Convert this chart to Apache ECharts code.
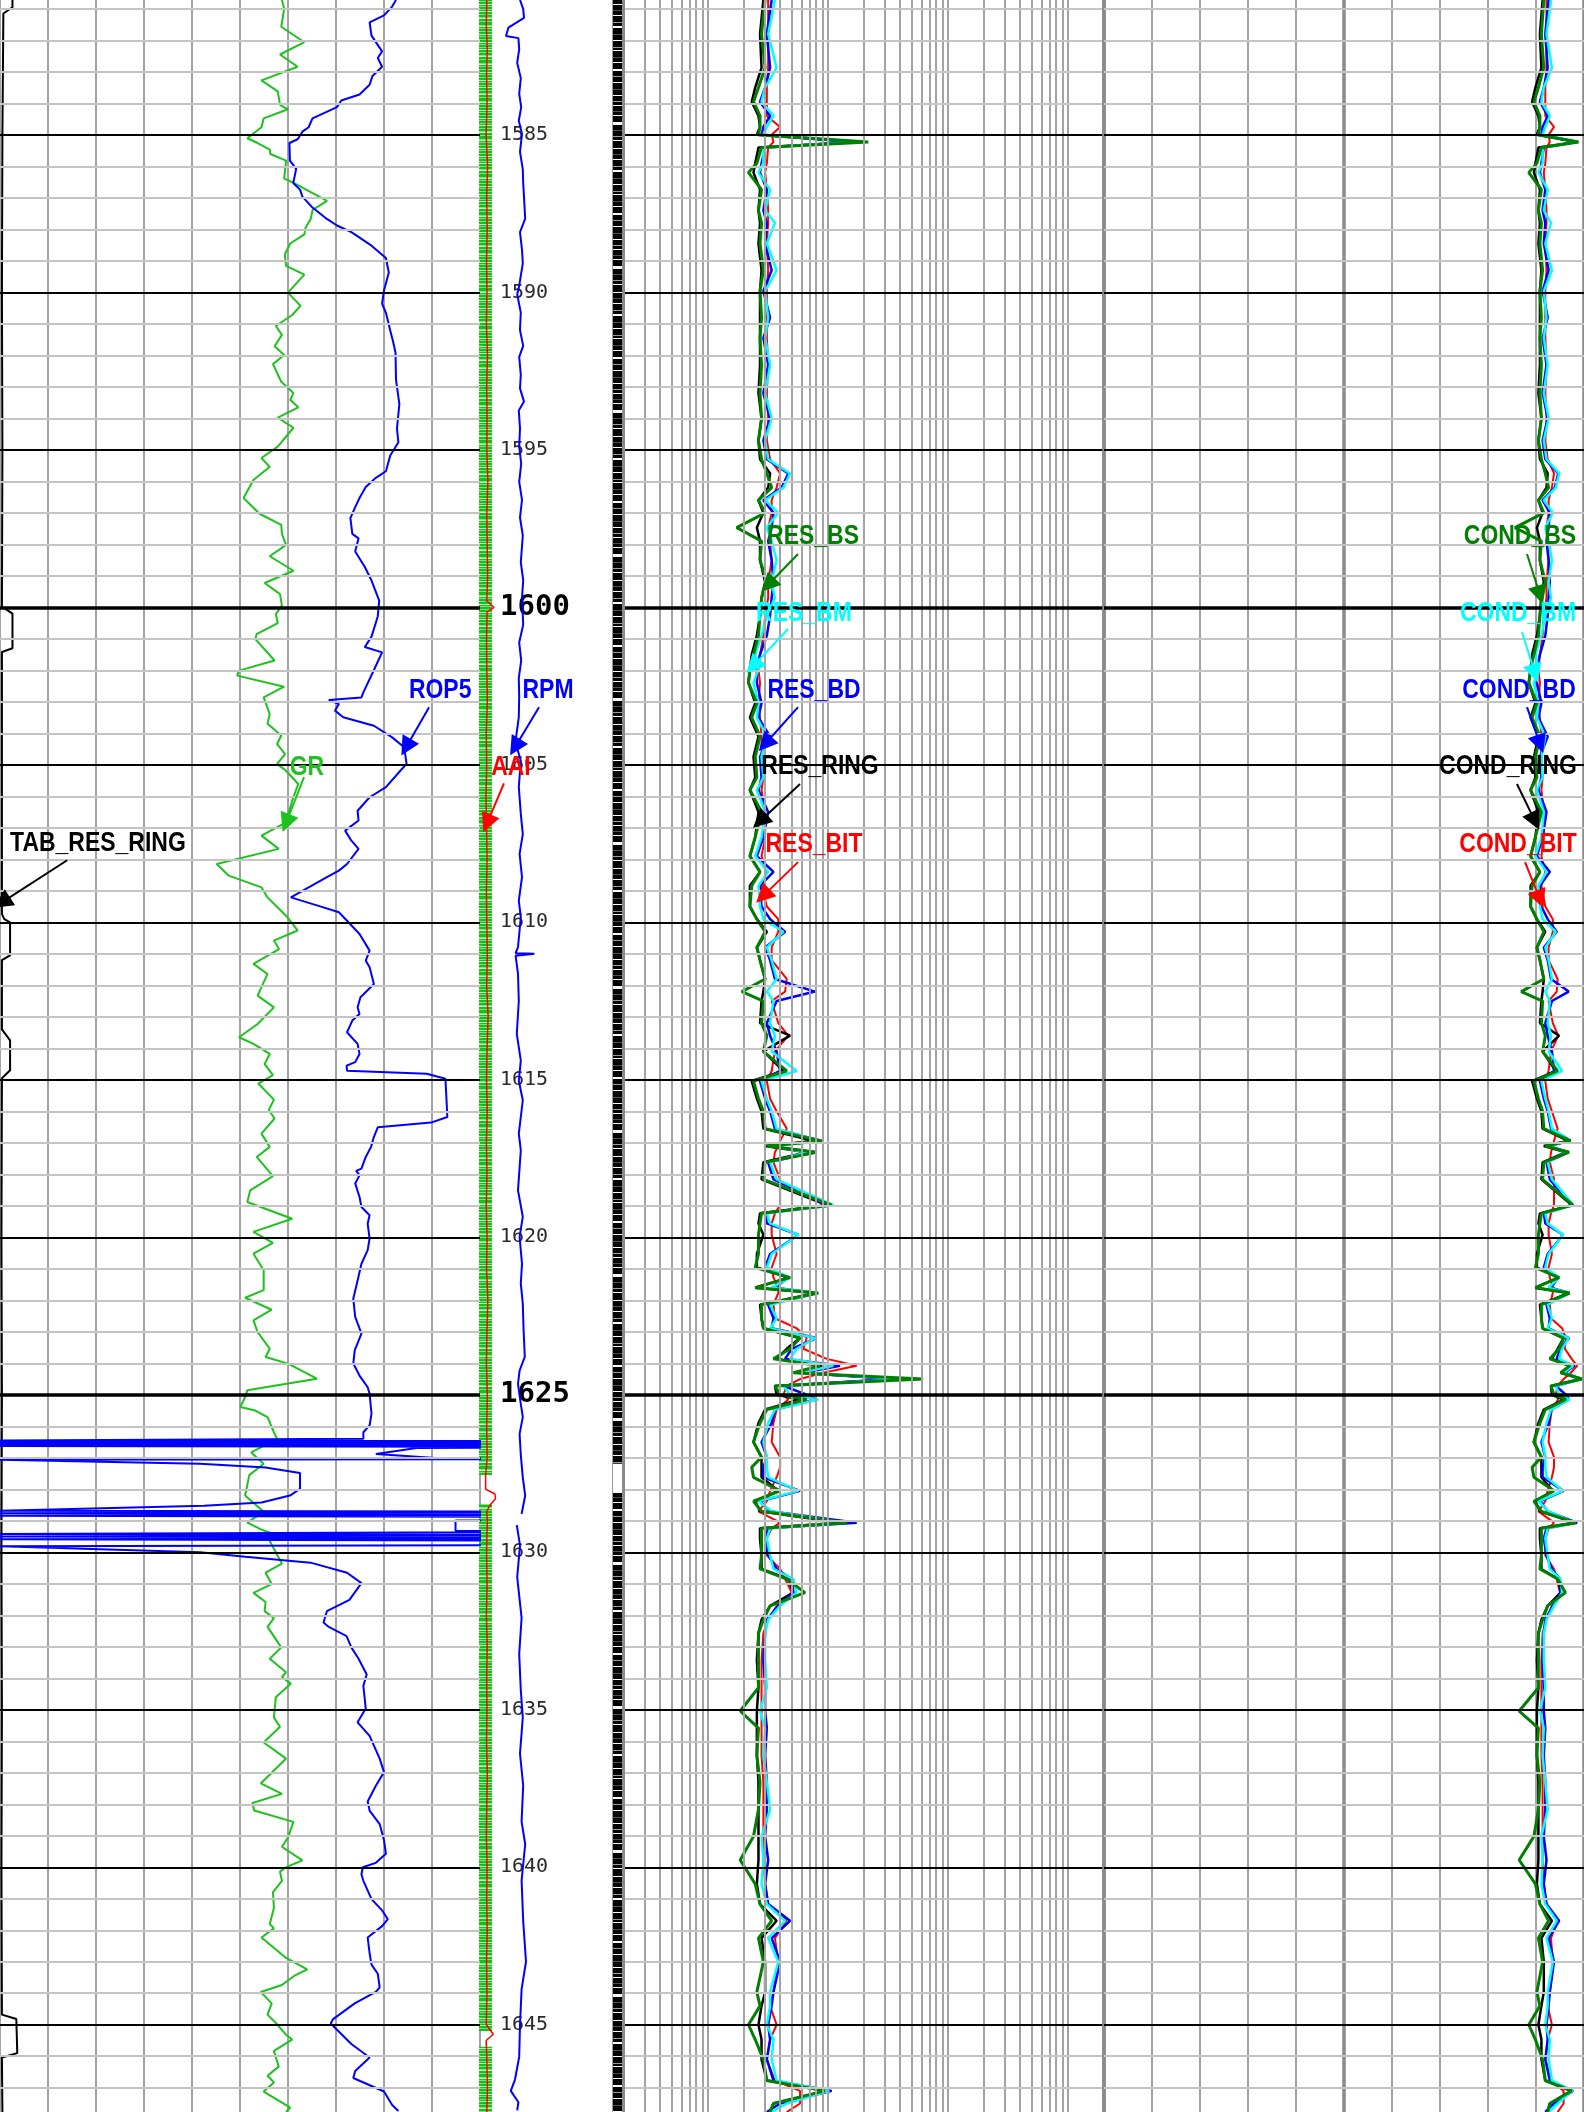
<!DOCTYPE html>
<html><head><meta charset="utf-8">
<script src="https://cdn.jsdelivr.net/npm/echarts@6/dist/echarts.min.js"></script>
<style>html,body{margin:0;padding:0;background:#fff}#c{width:1584px;height:2112px}</style>
</head><body><div id="c"></div>
<script>
// ---------------- DATA ----------------
const DMIN = 1580.72, DMAX = 1647.77;
const depthLabels = [1585,1590,1595,1600,1605,1610,1615,1620,1625,1630,1635,1640,1645];
const logGridValues = [0.15,0.2,0.25,0.3,0.35,0.4,0.45,0.5,1,1.5,2,2.5,3,3.5,4,4.5,5,10,15,20,25,30,35,40,45,50,100,150,200,250,300,350,400,450,500];

// [depth, GR gAPI]
const grPts = [[1580.72,88.1],[1581.0,88.8],[1581.57,87.9],[1582.06,95.1],[1582.45,87.5],[1582.84,93.0],[1583.27,81.7],[1583.62,86.8],[1584.05,87.5],[1584.19,90.0],[1584.48,82.4],[1584.76,81.7],[1585.11,77.3],[1585.26,80.5],[1585.47,84.3],[1585.61,84.5],[1585.82,89.4],[1586.39,88.8],[1586.53,91.9],[1586.82,97.1],[1587.10,102.2],[1587.38,97.7],[1587.67,97.1],[1587.95,95.5],[1588.16,95.1],[1588.45,90.7],[1588.80,89.0],[1589.16,89.4],[1589.44,95.1],[1590.01,90.0],[1590.43,93.9],[1590.72,91.3],[1591.07,86.2],[1591.35,88.1],[1591.71,85.8],[1591.99,88.8],[1592.28,85.3],[1592.84,87.9],[1593.20,91.7],[1593.41,90.7],[1593.65,93.2],[1593.98,86.8],[1594.30,91.7],[1594.90,86.8],[1595.26,81.7],[1595.54,84.3],[1595.96,79.2],[1596.53,76.1],[1597.03,81.1],[1597.38,87.9],[1597.67,88.1],[1598.02,89.4],[1598.38,84.3],[1598.84,91.7],[1599.23,82.7],[1599.58,87.5],[1599.94,88.1],[1600.22,86.2],[1600.50,86.8],[1600.85,80.2],[1601.01,79.8],[1601.69,85.8],[1602.01,74.7],[1602.17,74.1],[1602.52,88.8],[1602.86,82.4],[1603.39,84.3],[1603.70,83.6],[1604.07,87.9],[1604.34,86.6],[1604.66,89.1],[1604.97,86.6],[1605.19,89.4],[1605.61,93.2],[1606.14,91.3],[1606.83,89.4],[1607.25,81.7],[1607.67,87.1],[1608.15,67.7],[1608.52,71.5],[1608.89,81.7],[1609.21,83.6],[1609.79,89.4],[1610.26,93.0],[1610.58,85.6],[1610.85,87.2],[1611.32,79.2],[1611.64,83.6],[1612.33,80.5],[1612.70,85.6],[1613.23,80.5],[1613.65,74.7],[1613.86,79.2],[1614.18,84.3],[1614.50,82.7],[1614.85,85.3],[1615.12,80.7],[1615.63,85.6],[1615.96,84.0],[1616.23,85.8],[1616.71,81.7],[1617.13,84.3],[1617.45,80.2],[1618.06,85.3],[1618.51,78.2],[1618.88,77.3],[1619.41,91.3],[1619.83,79.2],[1620.18,85.3],[1620.52,79.2],[1621.05,82.4],[1621.68,82.4],[1621.92,76.6],[1622.30,84.9],[1622.64,79.2],[1623.01,80.5],[1623.54,84.3],[1623.80,83.0],[1624.01,90.0],[1624.49,99.0],[1624.86,77.3],[1625.07,76.6],[1625.39,75.1],[1625.50,79.8],[1625.71,83.6],[1626.19,85.6],[1626.40,86.6],[1626.83,78.5],[1627.19,82.4],[1627.55,77.9],[1628.20,76.6],[1628.71,82.4],[1629.06,77.3],[1629.28,81.7],[1629.42,85.6],[1629.64,84.3],[1630.36,88.1],[1630.65,83.0],[1631.01,84.9],[1631.29,79.2],[1631.58,83.0],[1631.87,82.7],[1632.09,85.6],[1632.37,83.6],[1633.02,87.9],[1633.38,84.3],[1633.81,89.4],[1633.96,88.1],[1634.17,90.9],[1634.60,86.2],[1635.25,85.6],[1635.54,87.5],[1636.04,82.4],[1636.55,89.4],[1637.34,81.5],[1637.67,88.1],[1637.96,78.9],[1638.20,79.4],[1638.56,91.7],[1639.06,90.0],[1639.35,88.1],[1639.78,94.5],[1640.00,89.4],[1640.14,87.5],[1640.43,88.1],[1640.79,85.3],[1641.29,85.6],[1641.80,84.3],[1641.94,85.6],[1642.23,81.7],[1642.88,89.4],[1643.24,96.0],[1643.45,91.9],[1643.74,88.1],[1643.96,81.5],[1644.32,84.9],[1644.68,83.6],[1645.01,86.8],[1645.32,89.4],[1645.47,91.3],[1645.83,85.6],[1646.33,87.1],[1646.62,83.6],[1646.83,85.6],[1647.12,82.4],[1647.63,90.7],[1647.77,89.4]];

// [depth, ROP5 m/h]
const ropPts = [[1580.72,82.5],[1580.93,81.7],[1581.21,80.0],[1581.43,77.0],[1581.85,77.4],[1582.35,79.6],[1582.56,78.7],[1582.84,79.6],[1583.13,77.6],[1583.41,77.0],[1583.72,74.9],[1583.91,71.1],[1584.12,70.2],[1584.48,65.1],[1584.76,64.3],[1584.90,63.0],[1585.14,62.0],[1585.26,60.3],[1585.82,60.4],[1586.08,61.7],[1586.53,61.1],[1586.74,62.5],[1586.96,63.0],[1587.31,65.1],[1587.67,68.1],[1587.88,70.2],[1588.09,73.2],[1588.52,77.4],[1588.91,80.4],[1589.37,81.0],[1589.94,80.0],[1590.36,79.6],[1590.65,80.4],[1591.21,81.3],[1591.57,81.9],[1591.92,82.4],[1592.77,82.5],[1593.55,83.2],[1594.33,82.7],[1594.76,83.0],[1595.18,81.3],[1595.68,80.4],[1595.89,78.3],[1596.18,76.2],[1596.53,74.9],[1596.82,74.0],[1597.17,73.0],[1597.67,73.4],[1597.81,74.7],[1598.23,74.0],[1598.72,76.0],[1599.15,77.4],[1599.79,79.0],[1600.29,78.7],[1600.93,77.4],[1601.26,76.0],[1601.43,79.6],[1601.99,77.9],[1602.70,75.7],[1602.86,75.3],[1602.94,68.5],[1603.07,70.6],[1603.28,69.8],[1603.49,71.5],[1603.76,77.9],[1604.13,81.7],[1604.44,84.2],[1604.97,84.7],[1605.19,83.4],[1605.71,80.4],[1606.03,77.0],[1606.46,74.5],[1606.77,74.7],[1607.09,71.9],[1607.41,73.2],[1607.67,74.7],[1608.15,72.3],[1608.36,70.6],[1608.57,68.1],[1609.21,60.6],[1609.52,67.2],[1609.68,70.6],[1609.95,72.3],[1610.37,74.9],[1610.90,77.0],[1611.22,76.2],[1611.43,77.0],[1611.96,77.9],[1612.38,75.1],[1612.70,74.5],[1612.91,74.9],[1613.12,73.4],[1613.49,72.3],[1613.86,74.5],[1614.18,74.9],[1614.44,74.0],[1614.55,72.2],[1614.71,72.3],[1614.81,88.9],[1614.97,92.8],[1616.18,93.2],[1616.36,89.8],[1616.51,78.7],[1616.81,77.9],[1617.13,77.3],[1617.45,76.2],[1617.82,75.3],[1617.89,74.2],[1618.03,74.9],[1618.29,74.0],[1618.72,74.9],[1619.04,75.3],[1619.30,77.0],[1619.57,76.6],[1620.04,77.0],[1620.41,76.6],[1620.84,75.3],[1621.37,74.5],[1621.95,73.6],[1622.53,74.0],[1623.06,75.3],[1623.59,73.9],[1624.01,73.6],[1624.39,74.9],[1624.76,76.6],[1624.97,77.0],[1625.60,77.4],[1625.97,77.0],[1626.19,75.7],[1626.40,75.7],[1626.45,0],[1626.48,150],[1626.51,0],[1626.54,150],[1626.57,0],[1626.60,150],[1626.63,0],[1626.66,150],[1626.69,86.8],[1626.88,78.3],[1627.02,92.3],[1627.04,150],[1627.06,0],[1627.19,41.7],[1627.31,55.3],[1627.48,62.5],[1627.99,62.5],[1628.20,60.4],[1628.42,54.5],[1628.52,42.5],[1628.68,0],[1628.72,150],[1628.76,0],[1628.80,150],[1628.84,0],[1628.89,150],[1628.97,150],[1628.99,94.9],[1629.32,94.9],[1629.34,150],[1629.42,0],[1629.46,150],[1629.50,0],[1629.55,150],[1629.59,0],[1629.64,150],[1629.76,150],[1629.81,0],[1630.00,41.7],[1630.14,51.1],[1630.33,64.7],[1630.65,72.3],[1630.98,75.3],[1631.51,72.8],[1631.87,68.1],[1632.23,67.4],[1632.37,68.5],[1632.66,72.2],[1633.02,73.2],[1633.38,74.7],[1633.88,76.4],[1634.24,75.7],[1634.96,76.2],[1635.40,74.5],[1635.83,77.0],[1636.55,79.1],[1636.98,80.0],[1637.41,78.3],[1637.91,76.6],[1638.20,77.0],[1638.63,79.1],[1639.14,80.0],[1639.57,80.4],[1639.86,78.3],[1640.00,75.6],[1640.22,75.3],[1640.43,75.7],[1641.01,77.4],[1641.37,79.6],[1641.65,80.8],[1641.87,79.6],[1642.23,76.6],[1642.73,77.0],[1643.09,77.4],[1643.38,78.7],[1643.81,79.1],[1643.96,78.3],[1644.32,73.9],[1644.82,69.4],[1644.96,68.9],[1645.61,73.2],[1646.04,77.0],[1646.47,74.0],[1646.69,73.6],[1647.12,80.0],[1647.55,81.7],[1647.74,83.0]];

// [depth, TAB_RES_RING h]
const tabPts = [[1580.72,0.26],[1580.95,0.26],[1581.15,0.07],[1585,0.05],[1590,0.04],[1595,0.05],[1599.98,0.04],[1600.2,0.26],[1601.3,0.26],[1601.42,0.04],[1605,0.04],[1609.74,0.04],[1609.9,0.09],[1610.0,0.21],[1611.05,0.21],[1611.2,0.04],[1613.4,0.04],[1613.75,0.21],[1614.7,0.21],[1614.95,0.04],[1620,0.03],[1625,0.04],[1630,0.03],[1635,0.04],[1640,0.03],[1644.68,0.04],[1644.82,0.34],[1645.9,0.36],[1646.04,0.04],[1647.77,0.05]];

// [depth, AAI]
const aaiPts = [[1580.72,6.0],[1581.5,5.6],[1582.3,6.4],[1583.0,5.8],[1584.0,6.2],[1585.0,5.5],[1586.0,6.6],[1587.0,5.9],[1588.0,6.3],[1589.0,5.8],[1590.0,6.1],[1591.0,5.7],[1592.0,6.5],[1593.0,5.9],[1594.0,6.2],[1595.0,6.0],[1596.0,6.8],[1597.0,6.0],[1598.0,6.3],[1599.0,6.6],[1599.8,6.0],[1600.0,11.5],[1600.15,6.2],[1601.0,5.8],[1602.0,6.0],[1603.0,6.4],[1604.0,5.6],[1605.0,5.9],[1606.0,5.4],[1607.0,5.8],[1608.0,6.2],[1609.0,5.7],[1610.0,6.0],[1611.0,6.4],[1612.0,5.9],[1613.0,7.0],[1614.0,6.2],[1615.0,5.8],[1616.0,6.3],[1617.0,5.7],[1618.0,6.1],[1619.0,5.6],[1620.0,6.2],[1621.0,5.8],[1622.0,6.8],[1623.0,6.1],[1624.0,5.7],[1625.0,6.4],[1626.0,5.9],[1627.0,6.3],[1627.55,5.1],[1628.0,5.1],[1628.15,12.3],[1628.3,12.7],[1628.5,8.5],[1628.7,6.0],[1629.0,6.4],[1630.0,5.8],[1631.0,6.2],[1632.0,5.7],[1633.0,6.3],[1634.0,5.9],[1635.0,6.1],[1636.0,5.8],[1637.0,6.4],[1638.0,6.0],[1639.0,5.7],[1640.0,6.2],[1641.0,5.9],[1642.0,6.3],[1643.0,5.8],[1644.0,6.1],[1645.0,5.6],[1645.3,11.0],[1645.5,5.5],[1646.0,6.0],[1647.0,6.5],[1647.77,6.0]];
// AAI data-present intervals [top, bottom]
const aaiPresent = [[1580.72,1627.55],[1628.48,1645.2],[1645.7,1647.77]];
// image-log data-present intervals
const imagePresent = [[1580.72,1627.19],[1628.12,1647.77]];

// [depth, RPM]
const rpmPts = [[1580.72,70],[1581.0,78],[1581.29,80],[1581.6,41],[1581.86,35],[1581.93,66],[1582.28,68],[1582.71,63],[1583.2,72],[1583.7,68],[1584.12,73],[1584.55,67],[1584.97,75],[1585.54,70],[1586.1,77],[1586.53,78],[1587.66,83],[1588.09,70],[1588.65,75],[1589.08,77],[1589.79,68],[1590.07,63],[1590.64,72],[1591.2,70],[1591.7,78],[1592.05,68],[1592.62,72],[1593.05,70],[1593.47,80],[1593.75,67],[1594.32,70],[1594.89,68],[1595.45,73],[1596.02,68],[1596.59,75],[1597.15,70],[1597.72,77],[1598.57,72],[1599.14,78],[1599.7,75],[1600.55,78],[1601.12,68],[1601.69,73],[1602.25,67],[1602.82,68],[1603.49,67],[1604.23,59],[1604.44,62],[1604.87,72],[1605.71,67],[1606.56,72],[1607.2,77],[1607.83,69],[1608.57,75],[1609.31,67],[1609.84,72],[1610.79,65],[1610.98,59],[1611.0,106],[1611.06,59],[1611.64,65],[1612.49,67],[1613.54,62],[1614.39,72],[1615.03,67],[1615.65,77],[1616.71,67],[1617.24,72],[1618.51,65],[1619.35,77],[1619.99,69],[1620.84,75],[1621.47,72],[1622.11,77],[1622.96,79],[1623.8,82],[1624.23,69],[1624.65,65],[1625.29,72],[1625.71,77],[1626.24,69],[1626.91,72],[1627.63,77],[1628.2,83],[1628.78,74],[1628.9,null],[1629.14,62],[1629.78,70],[1630.79,63],[1632.08,74],[1633.23,68],[1634.38,72],[1635.24,77],[1636.39,70],[1637.4,78],[1638.55,74],[1639.27,83],[1640.42,74],[1641.71,78],[1643.0,85],[1643.87,74],[1645.01,70],[1646.02,68],[1646.74,57.5],[1647.1,47],[1647.46,66],[1647.72,63]];

// Resistivity / conductivity sample depths
const resDepth = [1580.72,1581.8,1582.87,1583.5,1583.95,1584.4,1584.75,1585.0,1585.23,1585.4,1585.9,1586.2,1586.74,1587.4,1587.8,1588.45,1589.3,1589.96,1590.8,1591.45,1592.3,1593.2,1594.0,1594.7,1595.3,1595.75,1596.2,1596.6,1597.0,1597.47,1597.9,1598.5,1599.2,1599.7,1600.26,1600.9,1601.5,1601.97,1602.4,1603.04,1603.5,1604.1,1604.75,1605.4,1605.8,1606.5,1607.3,1607.9,1608.4,1608.84,1609.5,1609.9,1610.3,1610.8,1611.2,1611.8,1612.2,1612.5,1613.2,1613.6,1614.1,1614.72,1615.04,1615.6,1616.0,1616.55,1616.94,1617.1,1617.3,1617.62,1618.16,1618.98,1619.24,1619.56,1619.92,1620.53,1620.96,1621.28,1621.6,1621.77,1622.14,1622.57,1622.89,1623.2,1623.54,1623.86,1624.08,1624.3,1624.5,1624.72,1625.0,1625.15,1625.47,1625.9,1626.5,1626.98,1627.3,1627.62,1628.05,1628.38,1628.7,1629.06,1629.24,1629.56,1630.1,1630.53,1630.85,1631.28,1631.7,1632.14,1632.57,1633.43,1634.3,1635.04,1635.58,1636.44,1637.3,1638.16,1639.02,1639.77,1640.53,1641.17,1641.7,1642.25,1643.0,1643.96,1644.4,1645.0,1645.47,1646.1,1646.77,1647.1,1647.5,1647.77];

const resBS = [1.50,1.40,1.50,1.32,1.20,1.36,1.36,1.32,10.86,1.40,1.28,1.09,1.40,1.32,1.40,1.36,1.45,1.36,1.40,1.36,1.40,1.36,1.40,1.32,1.40,1.55,1.70,1.32,1.50,0.87,1.40,1.36,1.55,1.40,1.36,1.32,1.20,1.12,1.09,1.28,1.16,1.36,1.24,1.28,1.12,1.40,1.24,1.12,1.36,1.16,1.12,1.28,1.50,1.28,1.36,1.50,0.96,1.45,1.40,1.55,1.45,2.27,1.20,1.32,1.45,1.50,4.44,1.55,4.03,1.50,1.45,5.38,1.40,1.36,1.32,1.32,1.24,2.42,1.24,4.16,1.40,1.40,1.45,2.93,2.42,1.76,4.30,2.58,31.1,1.81,2.00,3.33,1.55,1.36,1.20,1.40,1.16,1.20,2.00,1.20,1.40,7.17,1.40,1.40,1.40,1.36,2.27,3.22,1.65,1.45,1.32,1.32,1.32,0.93,1.32,1.28,1.36,1.32,1.20,0.93,1.24,1.36,1.70,1.32,1.45,1.28,1.36,1.09,1.24,1.45,1.55,4.73,1.76,1.65];
const resBM = [1.81,1.59,1.87,1.50,1.40,1.76,1.55,1.45,9.87,1.45,1.45,1.32,1.65,1.50,1.81,1.55,1.87,1.50,1.59,1.50,1.65,1.50,1.70,1.50,1.59,2.42,2.13,1.50,1.93,1.55,1.70,1.87,1.70,1.81,1.55,1.40,1.24,1.32,1.20,1.32,1.28,1.55,1.40,1.45,1.28,1.50,1.40,1.24,1.59,1.32,1.36,1.45,2.13,1.55,1.70,1.87,1.55,1.76,1.65,1.81,1.70,2.75,1.40,1.55,1.70,1.87,4.30,1.70,3.33,1.65,1.87,5.55,1.55,1.65,2.84,1.70,1.55,2.42,1.70,4.16,1.65,1.87,1.65,3.90,2.75,2.42,5.55,2.93,21.3,2.13,2.42,4.16,1.81,1.59,1.45,1.55,1.55,1.59,2.84,1.32,1.70,6.72,1.65,1.55,1.65,1.76,2.58,2.75,2.00,1.59,1.50,1.50,1.55,1.36,1.50,1.45,1.55,1.65,1.40,1.45,1.40,1.55,2.20,1.59,1.93,1.65,1.65,1.55,1.76,1.70,1.87,5.13,2.27,1.70];
const resBD = [1.70,1.55,1.65,1.50,1.36,1.65,1.45,1.40,8.14,1.50,1.40,1.36,1.55,1.45,1.55,1.50,1.70,1.45,1.65,1.45,1.59,1.45,1.65,1.45,1.55,2.34,2.06,1.45,1.76,1.70,1.59,1.70,1.76,1.70,1.65,1.55,1.36,1.28,1.28,1.40,1.32,1.65,1.36,1.40,1.32,1.59,1.45,1.28,1.76,1.36,1.40,1.65,2.20,1.50,1.65,1.81,3.90,1.87,1.55,1.65,1.87,2.00,1.36,1.50,1.65,1.81,4.44,1.65,3.90,1.59,1.76,4.89,1.50,1.55,2.84,1.65,1.50,2.34,1.81,4.03,1.59,1.76,1.70,4.03,2.50,2.20,6.31,3.12,17.6,2.13,3.33,4.03,1.81,1.70,1.40,1.55,1.45,1.45,2.93,1.36,1.65,8.69,1.59,1.50,1.59,1.87,2.50,2.58,1.93,1.55,1.50,1.45,1.50,1.50,1.55,1.50,1.55,1.55,1.50,1.59,1.50,1.59,2.42,1.70,2.00,1.76,1.70,1.59,1.65,1.55,1.76,5.38,2.00,1.55];
const resRING = [1.45,1.36,1.40,1.24,1.16,1.32,1.36,1.28,8.69,1.32,1.24,1.20,1.36,1.32,1.36,1.32,1.40,1.36,1.36,1.36,1.36,1.32,1.40,1.32,1.36,1.65,1.59,1.32,1.45,1.28,1.36,1.36,1.50,1.40,1.36,1.28,1.16,1.12,1.09,1.24,1.12,1.32,1.20,1.24,1.12,1.32,1.24,1.12,1.36,1.12,1.12,1.28,1.55,1.28,1.36,1.50,1.45,1.40,1.36,2.42,1.45,2.13,1.16,1.28,1.40,1.45,3.78,1.50,3.33,1.45,1.40,4.89,1.36,1.32,1.45,1.28,1.28,2.34,1.24,4.03,1.36,1.40,1.45,2.93,2.27,1.87,4.58,2.75,18.7,1.81,1.87,2.93,1.50,1.32,1.20,1.40,1.40,1.40,1.93,1.24,1.36,6.31,1.36,1.36,1.40,1.40,2.34,2.58,1.65,1.40,1.32,1.28,1.32,1.28,1.28,1.28,1.32,1.32,1.32,1.32,1.28,1.36,1.87,1.40,1.50,1.50,1.40,1.32,1.40,1.40,1.55,4.89,1.76,1.65];
const resBIT = [1.59,1.59,1.59,1.55,1.55,1.55,2.00,1.70,1.76,1.59,1.55,1.50,1.55,1.59,1.59,1.55,1.59,1.55,1.55,1.55,1.59,1.55,1.59,1.55,1.65,2.00,1.87,1.70,1.70,1.59,1.65,1.70,1.59,1.59,1.50,1.45,1.36,1.32,1.36,1.32,1.36,1.40,1.40,1.45,1.40,1.50,1.50,1.40,1.55,1.40,1.55,1.93,1.93,1.70,1.70,2.27,2.20,1.70,1.93,2.34,1.81,1.70,1.55,1.65,1.87,2.27,2.00,1.93,1.81,1.76,2.00,2.00,1.81,1.70,1.70,1.87,1.70,1.76,1.93,1.93,1.76,1.81,2.75,3.33,3.12,4.89,8.69,4.58,2.93,2.27,2.13,2.34,1.87,1.76,1.70,2.00,2.00,1.87,1.65,1.55,1.32,2.00,1.70,1.55,1.55,2.00,2.20,2.50,1.87,1.59,1.45,1.40,1.40,1.40,1.40,1.40,1.45,1.45,1.45,1.45,1.50,1.59,2.27,1.81,1.93,1.76,1.65,1.87,1.65,1.55,1.81,2.93,2.93,2.27];

const condBS = [670,710,670,760,835,735,735,760,92,710,785,920,710,760,710,735,690,735,710,735,710,735,710,760,710,645,590,760,670,1150,710,735,645,710,735,760,835,890,920,785,865,735,810,785,890,710,810,890,735,865,890,785,670,785,735,670,1045,690,710,645,690,440,835,760,690,670,225,645,250,670,690,185,710,735,760,760,810,415,810,240,710,710,690,340,415,570,235,390,32,550,500,300,645,735,835,710,865,835,500,835,710,140,710,710,710,735,440,310,605,690,760,760,760,1080,760,785,735,760,835,1080,810,735,590,760,690,785,735,920,810,690,645,210,570,605];
const condBM = [550,625,535,670,710,570,645,690,100,690,690,760,605,670,550,645,535,670,625,670,605,670,590,670,625,415,470,670,520,645,590,535,590,550,645,710,810,760,835,760,785,645,710,690,785,670,710,810,625,760,735,690,470,645,590,535,645,570,605,550,590,365,710,645,590,535,235,590,300,605,535,180,645,605,350,590,645,415,590,240,605,535,605,255,365,415,180,340,47,470,415,240,550,625,690,645,645,625,350,760,590,150,605,645,605,570,390,365,500,625,670,670,645,735,670,690,645,605,710,690,710,645,455,625,520,605,605,645,570,590,535,195,440,590];
const condBD = [590,645,605,670,735,605,690,710,125,670,710,735,645,690,645,670,590,690,605,690,625,690,605,690,645,430,485,690,570,590,625,590,570,590,605,645,735,785,785,710,760,605,735,710,760,625,690,785,570,735,710,605,455,670,605,550,255,535,645,605,535,500,735,670,605,550,225,605,255,625,570,205,670,645,350,605,670,430,550,250,625,570,590,250,400,455,160,320,57,470,300,250,550,590,710,645,690,690,340,735,605,115,625,670,625,535,400,390,520,645,670,690,670,670,645,670,645,645,670,625,670,625,415,590,500,570,590,625,605,645,570,185,500,645];
const condRING = [690,735,710,810,865,760,735,785,115,760,810,835,735,760,735,760,710,735,735,735,735,760,710,760,735,605,625,760,690,785,735,735,670,710,735,785,865,890,920,810,890,760,835,810,890,760,810,890,735,890,890,785,645,785,735,670,690,710,735,415,690,470,865,785,710,690,265,670,300,690,710,205,735,760,690,785,785,430,810,250,735,710,690,340,440,535,220,365,53,550,535,340,670,760,835,710,710,710,520,810,735,160,735,735,710,710,430,390,605,710,760,785,760,785,785,785,760,760,760,760,785,735,535,710,670,670,710,760,710,710,645,205,570,605];
const condBIT = [625,625,625,645,645,645,500,590,570,625,645,670,645,625,625,645,625,645,645,645,625,645,625,645,605,500,535,590,590,625,605,590,625,625,670,690,735,760,735,760,735,710,710,690,710,670,670,710,645,710,645,520,520,590,590,440,455,590,520,430,550,590,645,605,535,440,500,520,550,570,500,500,550,590,590,535,590,570,520,520,570,550,365,300,320,205,115,220,340,440,470,430,535,570,590,500,500,535,605,645,760,500,590,645,645,500,455,400,535,625,690,710,710,710,710,710,690,690,690,690,670,625,440,550,520,570,605,535,605,645,550,340,340,440];

// ---------------- STYLE / HELPERS ----------------
const LABEL_FONT = 'bold 28px "Liberation Sans", Arial, sans-serif';
const MONO = '"DejaVu Sans Mono","Liberation Mono",monospace';
const C = {gr:'#1ec21e', rop:'#0000ff', tab:'#000000', aai:'#ff0000', rpm:'#0000ff',
           bs:'#008000', bm:'#00ffff', bd:'#0000ff', ring:'#000000', bit:'#ff0000'};

function makePattern(rows, w, colors) {
  const c = document.createElement('canvas');
  c.width = w; c.height = rows.length;
  const ctx = c.getContext('2d');
  for (let i = 0; i < rows.length; i++) { ctx.fillStyle = colors[rows[i]]; ctx.fillRect(0, i, w, 1); }
  return {image: c, repeat: 'repeat'};
}
const hatchPattern = makePattern('GLGGWGLGGLGWGGLGGLWGGLGGGLWGLGGLGGWGLG', 16, {G:'#12c412', L:'#86dc86', W:'#d8f4d8'});
const barPattern = makePattern('kkkkwkkkkkdkkkkwkkkkkkgkkkwwkkkkkkdkkkkkwkkkkkkgkkwkkkkkkdkkkkwkkkkkkwwkkkkkgkkkkkwkkkkkkdkkkkkwkkkkkgkkkwkkkkkdkkkwkkkkkkwwwkkkkkdkkkkkgkkkwkkk', 16, {k:'#000000', w:'#ffffff', g:'#9a9a9a', d:'#505050'});

const pairXY = pts => pts.map(p => [p[1], p[0]]);
const colXY = (vals) => resDepth.map((d, i) => [vals[i], d]);

function hLines() {
  const minor = [], major = [];
  for (let d = Math.ceil(DMIN); d <= DMAX; d++) {
    if (d % 5 === 0) major.push({yAxis: d, lineStyle: {color: '#000', width: d % 25 === 0 ? 3.5 : 2, type: 'solid'}});
    else minor.push({yAxis: d, lineStyle: {color: '#c4c4c4', width: 2, type: 'solid'}});
  }
  return minor.concat(major);
}
function gridSeries(xi, yi, vlines) {
  return {type: 'line', xAxisIndex: xi, yAxisIndex: yi, data: [], silent: true, z: 1, symbol: 'none', animation: false,
    markLine: {silent: true, animation: false, symbol: ['none', 'none'], label: {show: false}, emphasis: {disabled: true},
      data: vlines.concat(hLines())}};
}
function arrow(color, from, to) {
  return {silent: true, animation: false, symbol: ['none', 'triangle'], symbolSize: 19, label: {show: false},
    emphasis: {disabled: true}, lineStyle: {color: color, width: 2, type: 'solid'},
    data: [[{coord: from}, {coord: to}]]};
}
// narrow bold curve-name label, drawn at a data position through the axes
function nameLabel(text, color, xi, yi, pos) {
  return {type: 'custom', xAxisIndex: xi, yAxisIndex: yi, z: 6, silent: true, animation: false, data: [pos],
    renderItem: function (params, api) {
      const p = api.coord([api.value(0), api.value(1)]);
      return {type: 'text', x: p[0], y: p[1], scaleX: 0.82,
        style: {text: text, font: LABEL_FONT, fill: color, align: 'center', verticalAlign: 'middle'}};
    }};
}
function curve(o) {
  const s = {type: 'line', name: o.name, xAxisIndex: o.x, yAxisIndex: o.y, data: o.data, symbol: 'none', showSymbol: false,
    silent: true, animation: false, z: o.z || 3, connectNulls: false, clip: true,
    lineStyle: {color: o.color, width: o.width || 2}};
  if (o.arrow) s.markLine = arrow(o.color, o.arrow[0], o.arrow[1]);
  const out = [s];
  if (o.label) out.push(nameLabel(o.name, o.color, o.x, o.y, o.label));
  return out;
}

const hid = {axisLine: {show: false}, axisTick: {show: false}, axisLabel: {show: false}, splitLine: {show: false}};
const grids = [
  {left: 0, top: 0, width: 480, height: 2112},
  {left: 479, top: 0, width: 52, height: 2112},
  {left: 492, top: 0, width: 120, height: 2112},
  {left: 612, top: 0, width: 11, height: 2112},
  {left: 624, top: 0, width: 480, height: 2112},
  {left: 1104, top: 0, width: 480, height: 2112}
];
const gridLineStyle = {show: true, lineStyle: {color: '#a3a3a3', width: 2}};
const xAxes = [
  Object.assign({}, hid, {gridIndex: 0, type: 'value', min: 0, max: 150, interval: 15, splitLine: gridLineStyle}), // 0 GR
  Object.assign({}, hid, {gridIndex: 0, type: 'value', min: 0, max: 100}),  // 1 ROP5
  Object.assign({}, hid, {gridIndex: 0, type: 'value', min: 0, max: 10}),   // 2 TAB
  Object.assign({}, hid, {gridIndex: 1, type: 'value', min: 0, max: 40}),   // 3 AAI
  Object.assign({}, hid, {gridIndex: 2, type: 'value', min: 0, max: 300}),  // 4 RPM
  Object.assign({}, hid, {gridIndex: 3, type: 'value', min: 0, max: 1}),    // 5 image
  Object.assign({}, hid, {gridIndex: 4, type: 'log', logBase: 10, min: 0.1, max: 1000}), // 6 RES
  Object.assign({}, hid, {gridIndex: 5, type: 'value', min: 0, max: 8000, interval: 800, inverse: true, splitLine: gridLineStyle}) // 7 COND
];
const yAxes = grids.map((g, i) => Object.assign({}, hid, {gridIndex: i, type: 'value', inverse: true, min: DMIN, max: DMAX}));

const logV = logGridValues.map(v => ({xAxis: v, lineStyle: {color: '#a3a3a3', width: 2, type: 'solid'}}));
logV.push({xAxis: 1000, lineStyle: {color: '#8a8a8a', width: 3.5, type: 'solid'}});
const condV = [0, 4000, 8000].map(v => ({xAxis: v, lineStyle: {color: '#8a8a8a', width: 3.5, type: 'solid'}}));

const series = [].concat(
  gridSeries(0, 0, []),
  gridSeries(6, 4, logV),
  gridSeries(7, 5, condV),
  // track 1
  curve({name: 'TAB_RES_RING', x: 2, y: 0, data: pairXY(tabPts), color: C.tab, width: 2,
    label: [2.04, 1607.49], arrow: [[1.4, 1608.03], [0.04, 1609.37]]}),
  curve({name: 'GR', x: 0, y: 0, data: pairXY(grPts), color: C.gr, width: 2,
    label: [95.9, 1605.08], arrow: [[95.0, 1605.39], [89.4, 1606.85]]}),
  curve({name: 'ROP5', x: 1, y: 0, data: pairXY(ropPts), color: C.rop, width: 2, z: 4,
    label: [91.7, 1602.63], arrow: [[89.4, 1603.17], [84.6, 1604.44]]}),
  // AAI column background
  [{type: 'custom', xAxisIndex: 3, yAxisIndex: 1, z: 2, silent: true, animation: false, data: aaiPresent,
    renderItem: function (params, api) {
      const a = api.coord([0, api.value(0)]), b = api.coord([10, api.value(1)]);
      return {type: 'rect', shape: {x: a[0], y: a[1], width: b[0] - a[0], height: b[1] - a[1]}, style: {fill: hatchPattern}};
    }}],
  curve({name: 'AAI', x: 3, y: 1, data: pairXY(aaiPts), color: C.aai, width: 1.5, z: 5,
    label: [24.6, 1605.08], arrow: [[19.2, 1605.59], [6.15, 1606.86]]}),
  // depth labels
  [{type: 'custom', xAxisIndex: 4, yAxisIndex: 2, z: 2, silent: true, animation: false, data: depthLabels.map(d => [d]),
    renderItem: function (params, api) {
      const d = api.value(0); const p = api.coord([20, d]); const bold = d % 25 === 0;
      return {type: 'text', x: p[0], y: p[1], style: {text: String(d), font: (bold ? 'bold 29px ' : '20px ') + MONO,
        fill: bold ? '#000' : '#2a2a2a', verticalAlign: 'middle', align: 'left'}};
    }}],
  curve({name: 'RPM', x: 4, y: 2, data: pairXY(rpmPts), color: C.rpm, width: 2, z: 4,
    label: [140, 1602.63], arrow: [[117.5, 1603.17], [57.5, 1604.44]]}),
  // image strip
  [{type: 'custom', xAxisIndex: 5, yAxisIndex: 3, z: 2, silent: true, animation: false, data: imagePresent,
    renderItem: function (params, api) {
      const a = api.coord([0, api.value(0)]), b = api.coord([1, api.value(1)]);
      return {type: 'rect', shape: {x: a[0], y: a[1], width: b[0] - a[0], height: b[1] - a[1]}, style: {fill: barPattern}};
    }},
  {type: 'line', xAxisIndex: 5, yAxisIndex: 3, data: [], silent: true, z: 3, symbol: 'none', animation: false,
    markLine: {silent: true, animation: false, symbol: ['none', 'none'], label: {show: false},
      data: [{xAxis: 1, lineStyle: {color: '#8a8a8a', width: 3, type: 'solid'}}, {xAxis: 0, lineStyle: {color: '#9a9a9a', width: 1, type: 'solid'}}]}}],
  // resistivity
  curve({name: 'RES_BIT', x: 6, y: 4, data: colXY(resBIT), color: C.bit, width: 2, z: 3,
    label: [3.83, 1607.52], arrow: [[2.82, 1608.09], [1.44, 1609.17]]}),
  curve({name: 'RES_RING', x: 6, y: 4, data: colXY(resRING), color: C.ring, width: 2.5, z: 3,
    label: [4.30, 1605.04], arrow: [[2.93, 1605.61], [1.36, 1606.79]]}),
  curve({name: 'RES_BD', x: 6, y: 4, data: colXY(resBD), color: C.bd, width: 2.5, z: 3,
    label: [3.83, 1602.63], arrow: [[2.82, 1603.17], [1.50, 1604.34]]}),
  curve({name: 'RES_BM', x: 6, y: 4, data: colXY(resBM), color: C.bm, width: 2.5, z: 3,
    label: [3.16, 1600.19], arrow: [[2.33, 1600.69], [1.19, 1601.87]]}),
  curve({name: 'RES_BS', x: 6, y: 4, data: colXY(resBS), color: C.bs, width: 3, z: 3,
    label: [3.76, 1597.74], arrow: [[2.82, 1598.31], [1.585, 1599.29]]}),
  // conductivity
  curve({name: 'COND_BIT', x: 7, y: 5, data: colXY(condBIT), color: C.bit, width: 2, z: 3,
    label: [1100, 1607.52], arrow: [[983, 1608.09], [733, 1609.27]]}),
  curve({name: 'COND_RING', x: 7, y: 5, data: colXY(condRING), color: C.ring, width: 2.5, z: 3,
    label: [1267, 1605.04], arrow: [[1117, 1605.61], [817, 1606.79]]}),
  curve({name: 'COND_BD', x: 7, y: 5, data: colXY(condBD), color: C.bd, width: 2.5, z: 3,
    label: [1083, 1602.63], arrow: [[950, 1603.17], [733, 1604.34]]}),
  curve({name: 'COND_BM', x: 7, y: 5, data: colXY(condBM), color: C.bm, width: 2.5, z: 3,
    label: [1100, 1600.19], arrow: [[1033, 1600.79], [817, 1602.10]]}),
  curve({name: 'COND_BS', x: 7, y: 5, data: colXY(condBS), color: C.bs, width: 3, z: 3,
    label: [1067, 1597.74], arrow: [[950, 1598.31], [733, 1599.61]]})
);

const chart = echarts.init(document.getElementById('c'), null, {renderer: 'canvas', width: 1584, height: 2112});
chart.setOption({
  animation: false,
  backgroundColor: '#ffffff',
  grid: grids,
  xAxis: xAxes,
  yAxis: yAxes,
  series: series
});
</script>
</body></html>
